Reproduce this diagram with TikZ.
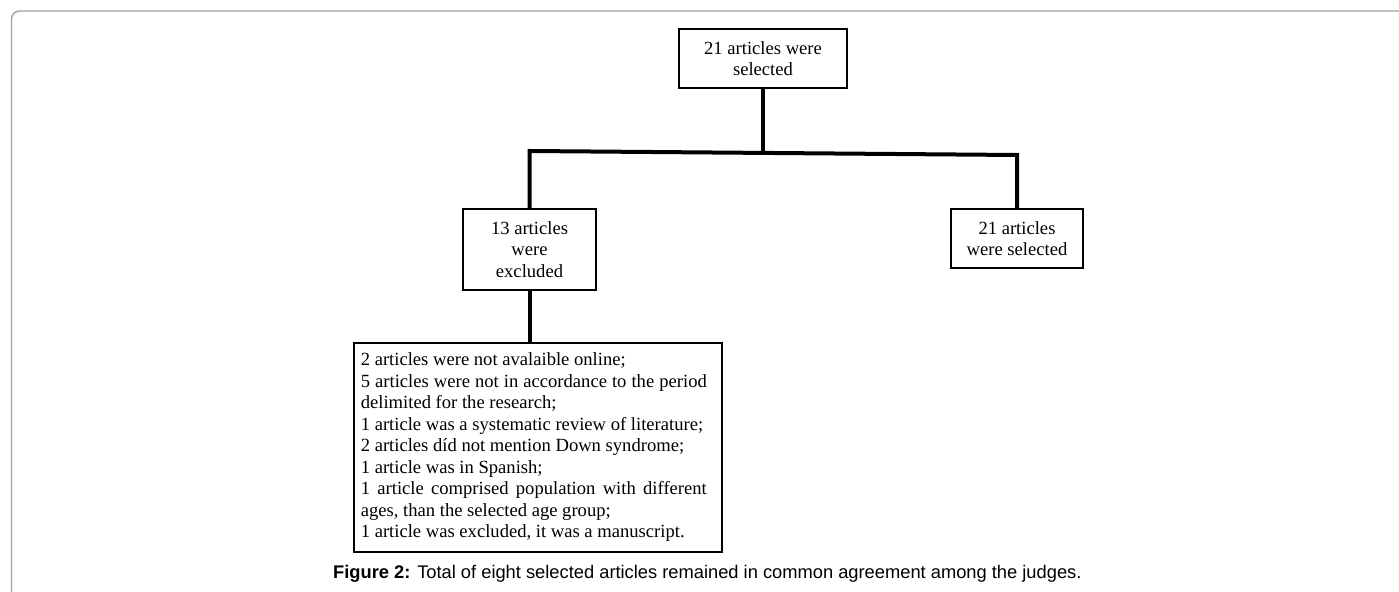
\documentclass[tikz,border=0pt]{standalone}
\usepackage{fontspec}
\setmainfont{Liberation Serif}
\newfontfamily\capfont{Liberation Sans}
\newcommand{\bxfont}{\rmfamily\fontsize{18.6bp}{21.5bp}\selectfont}
\newcommand{\jline}[1]{\makebox[346bp][s]{#1}}
\definecolor{framegray}{HTML}{A0A0A0}
\begin{document}
\begin{tikzpicture}[x=1bp,y=-1bp,
  box/.style={draw=black, line width=1.6bp, fill=white, align=center, inner sep=0pt, font=\bxfont},
  listbox/.style={draw=black, line width=1.6bp, fill=white, align=left, inner ysep=0pt, font=\bxfont},
  conn/.style={draw=black, line width=4bp, line join=miter},
  frame/.style={draw=framegray, line width=1.4bp, rounded corners=8bp}]
\useasboundingbox (0,0) rectangle (1399,592);
% page frame
\coordinate (fa) at (11.5,592);
\coordinate (fb) at (11.5,11);
\coordinate (fc) at (1399,11);
\draw[frame] (fa) -- (fb) -- (fc);
% boxes
\node[box, minimum width=168bp, minimum height=59bp] (t) at (763,58.5) {21 articles were\\selected};
\node[box, minimum width=133bp, minimum height=81bp] (ex) at (529.5,249.5) {13 articles\\were\\excluded};
\node[box, minimum width=132bp, minimum height=59bp] (sel) at (1017,238.5) {21 articles\\were selected};
\node[listbox, inner xsep=7bp, minimum height=209bp, anchor=north west] (list) at (353,342)
  {\makebox[354bp][l]{2 articles were not avalaible online;}\\
   \jline{5 articles were not in accordance to the period}\\
   delimited for the research;\\
   1 article was a systematic review of literature;\\
   2 articles díd not mention Down syndrome;\\
   1 article was in Spanish;\\
   \jline{1 article comprised population with different}\\
   ages, than the selected age group;\\
   1 article was excluded, it was a manuscript.};
% connectors
\coordinate (jl) at (ex.north |- 0,151);
\coordinate (jr) at (sel.north |- 0,155);
\coordinate (jm) at (t.south |- 0,153);
\draw[conn] (t.south) -- (jm);
\draw[conn] (ex.north) -- (jl) -- (jr) -- (sel.north);
\draw[conn] (ex.south) -- (ex.south |- list.north);
% caption
\node[font=\capfont\fontsize{18.3bp}{21bp}\selectfont, anchor=base west, inner sep=0pt] (cap) at (333,578.5)
  {\textbf{Figure 2:} Total of eight selected articles remained in common agreement among the judges.};
\end{tikzpicture}
\end{document}
